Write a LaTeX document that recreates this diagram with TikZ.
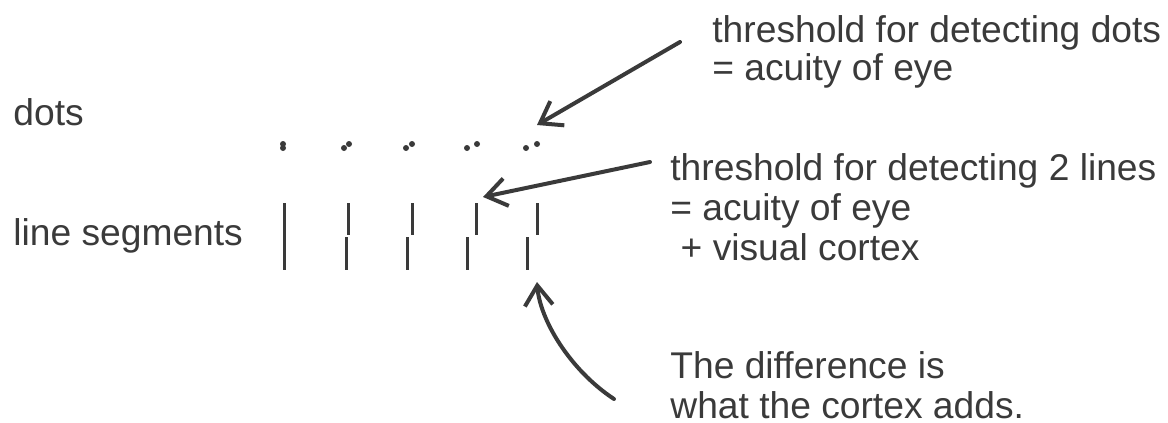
\documentclass[tikz,border=0pt]{standalone}
\usepackage{fontspec}
\setmainfont{Liberation Sans}
\usetikzlibrary{arrows.meta}
\definecolor{ink}{HTML}{3A3A3A}
\begin{document}
\begin{tikzpicture}[x=0.5pt,y=-0.5pt,
  note/.style={anchor=base west,inner sep=0pt,align=left,text=ink,font=\fontsize{18.6}{20}\selectfont},
  seg/.style={draw=ink,line width=1.5pt},
  pointer/.style={draw=ink,line width=2pt,line cap=round,line join=round,-{Straight Barb[length=10pt,width=14pt]}}]
\useasboundingbox (0,0) rectangle (1168,423);
\node[note] (dotslabel) at (13,125) {dots};
\node[note] (segslabel) at (13,245) {line segments};
% base anchor sits on the last line
\node[note] (dotsnote) at (712,80) {threshold for detecting dots\\[-1pt]= acuity of eye};
\node[note] (linesnote) at (670,260) {threshold for detecting 2 lines\\= acuity of eye\\~+ visual cortex};
\node[note] (diffnote) at (670,418) {The difference is\\what the cortex adds.};
% pairs of dots, lower left and upper right
\foreach \xl/\xr in {283/283,344/349,406/412,467/477,526/537} {
  \fill[ink] (\xl,148) circle[radius=1.5pt];
  \fill[ink] (\xr,144) circle[radius=1.5pt];
}
% line segments
\path[seg] (284,203) -- (284,270);
\foreach \xu/\xd in {348/346,412/407,476/467,537/527} {
  \path[seg] (\xu,203) -- (\xu,235);
  \path[seg] (\xd,237) -- (\xd,270);
}
\coordinate (dotstail) at (680,42);
\coordinate (dotstip) at (537,125);
\coordinate (linestail) at (650,162);
\coordinate (linestip) at (483,197);
\coordinate (difftail) at (614,399);
\coordinate (difftip) at (537,282);
\path[pointer] (dotstail) -- (dotstip);
\path[pointer] (linestail) -- (linestip);
\path[pointer] (difftail) .. controls (570,370) and (540,320) .. (difftip);
\end{tikzpicture}
\end{document}
